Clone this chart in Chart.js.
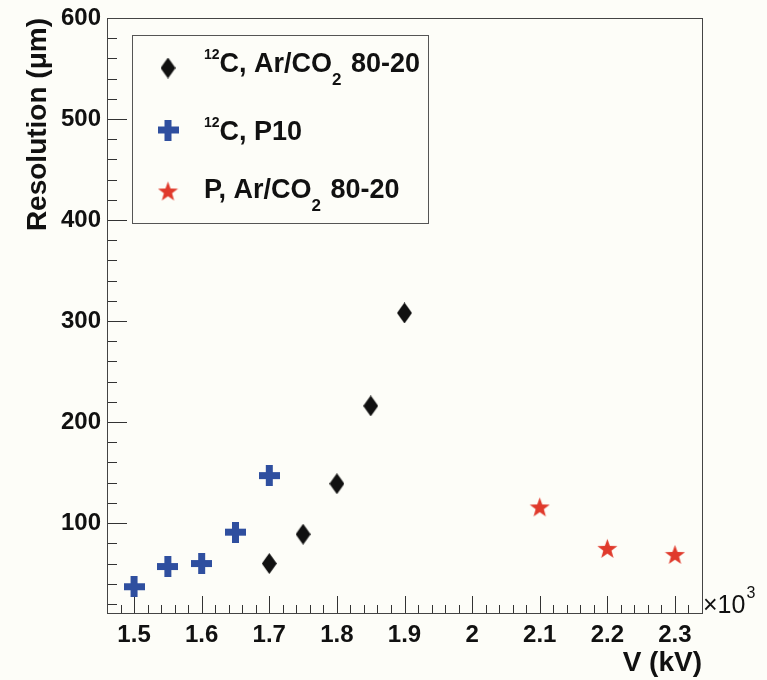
<!DOCTYPE html>
<html>
<head>
<meta charset="utf-8">
<title>Resolution vs V</title>
<script src="https://cdn.jsdelivr.net/npm/chart.js@4.4.1/dist/chart.umd.min.js"></script>
<style>
  body { margin: 0; background: #fdfdf8; }
  canvas { display: block; }
</style>
</head>
<body>
<canvas id="resChart" width="767" height="680"></canvas>
<script>
// 12C, Ar/CO2 80-20
const vC12Ar = [1.70, 1.75, 1.80, 1.85, 1.90];
const resC12Ar = [60, 89, 139, 216, 308];
// 12C, P10
const vC12P10 = [1.50, 1.55, 1.60, 1.65, 1.70];
const resC12P10 = [37, 57, 60, 91, 147];
// P, Ar/CO2 80-20
const vPAr = [2.10, 2.20, 2.30];
const resPAr = [116, 75, 69];

const xTicks = [1.5, 1.6, 1.7, 1.8, 1.9, 2.0, 2.1, 2.2, 2.3];
const yTicks = [100, 200, 300, 400, 500, 600];

// legend entries as runs of [text, 'sup' | 'sub' | '']
const legC12Ar = [['12', 'sup'], ['C, Ar/CO', ''], ['2', 'sub'], [' 80-20', '']];
const legC12P10 = [['12', 'sup'], ['C, P10', '']];
const legPAr = [['P, Ar/CO', ''], ['2', 'sub'], [' 80-20', '']];

const FONT = '"Liberation Sans", Arial, Helvetica, sans-serif';
const INK = '#111';

function makeMarker(w, h, draw) {
  const c = document.createElement('canvas');
  c.width = w;
  c.height = h;
  draw(c.getContext('2d'), w, h);
  return c;
}

const diamondMark = makeMarker(15, 21, (g, w, h) => {
  g.fillStyle = '#111';
  g.beginPath();
  g.moveTo(w / 2, 0);
  g.lineTo(w, h / 2);
  g.lineTo(w / 2, h);
  g.lineTo(0, h / 2);
  g.closePath();
  g.fill();
});

const crossMark = makeMarker(21, 21, (g) => {
  g.fillStyle = '#2f4f9f';
  g.fillRect(0, 7, 21, 7);
  g.fillRect(7, 0, 7, 21);
});

const starMark = makeMarker(21, 21, (g, w, h) => {
  g.fillStyle = '#e03a2c';
  g.beginPath();
  for (let i = 0; i < 10; i++) {
    const r = i % 2 ? 4.3 : 10.5;
    const a = -Math.PI / 2 + i * Math.PI / 5;
    g.lineTo(w / 2 + r * Math.cos(a), h / 2 + 1 + r * Math.sin(a));
  }
  g.closePath();
  g.fill();
});

const toPoints = (xs, ys) => xs.map((v, i) => ({x: v, y: ys[i]}));

// draws a run list, shifting sup/sub pieces around the baseline
function drawRich(ctx, runs, x, base) {
  ctx.textAlign = 'left';
  ctx.textBaseline = 'alphabetic';
  ctx.fillStyle = INK;
  for (const [t, kind] of runs) {
    let size = 27, dy = 0;
    if (kind === 'sup') { size = 14; dy = -13; }
    if (kind === 'sub') { size = 17; dy = 13; }
    ctx.font = `bold ${size}px ${FONT}`;
    ctx.fillText(t, x, base + dy);
    x += ctx.measureText(t).width + (kind === 'sub' ? 2 : 0);
  }
}

// ROOT-like frame: box around the pad, ticks pointing inward
const rootAxes = {
  id: 'rootAxes',
  beforeDatasetsDraw(chart) {
    const {ctx, chartArea: a, scales: {x, y}} = chart;
    ctx.save();
    ctx.lineWidth = 1;
    ctx.strokeStyle = '#333';

    // x ticks every 0.02, long ones every 0.1
    for (let k = 74; k <= 117; k++) {
      const px = Math.round(x.getPixelForValue(k * 0.02)) + 0.5;
      const len = k % 5 === 0 ? 17 : 8;
      ctx.beginPath();
      ctx.moveTo(px, a.bottom);
      ctx.lineTo(px, a.bottom - len);
      ctx.stroke();
    }
    // y ticks every 20, long ones every 100
    for (let v = 20; v < 600; v += 20) {
      const py = Math.round(y.getPixelForValue(v)) + 0.5;
      const len = v % 100 === 0 ? 20 : 10;
      ctx.beginPath();
      ctx.moveTo(a.left, py);
      ctx.lineTo(a.left + len, py);
      ctx.stroke();
    }

    ctx.strokeStyle = '#444';
    ctx.strokeRect(Math.round(a.left) + 0.5, Math.round(a.top) + 0.5,
      Math.round(a.right - a.left), Math.round(a.bottom - a.top));
    ctx.restore();
  },
  afterDraw(chart) {
    const {ctx, chartArea: a} = chart;
    ctx.save();

    // axis multiplier
    ctx.fillStyle = INK;
    ctx.textAlign = 'left';
    ctx.textBaseline = 'alphabetic';
    ctx.font = `25px ${FONT}`;
    ctx.fillText('\u00d710', a.right + 1, a.bottom);
    const w = ctx.measureText('\u00d710').width;
    ctx.font = `16px ${FONT}`;
    ctx.fillText('3', a.right + 2 + w, a.bottom - 15);

    // legend box
    ctx.strokeStyle = '#555';
    ctx.lineWidth = 1;
    ctx.strokeRect(132.5, 35.5, 296, 188);
    const rows = [
      [diamondMark, legC12Ar, 68, 72],
      [crossMark, legC12P10, 130, 140],
      [starMark, legPAr, 191, 198],
    ];
    for (const [mark, runs, my, base] of rows) {
      ctx.drawImage(mark, 168 - mark.width / 2, my - mark.height / 2);
      drawRich(ctx, runs, 204, base);
    }
    ctx.restore();
  }
};

const ctx = document.getElementById('resChart');

new Chart(ctx, {
  type: 'scatter',
  data: {
    datasets: [
      {
        label: '12C, Ar/CO2 80-20',
        data: toPoints(vC12Ar, resC12Ar),
        pointStyle: diamondMark,
        pointRadius: 10,
      },
      {
        label: '12C, P10',
        data: toPoints(vC12P10, resC12P10),
        pointStyle: crossMark,
        pointRadius: 10,
      },
      {
        label: 'P, Ar/CO2 80-20',
        data: toPoints(vPAr, resPAr),
        pointStyle: starMark,
        pointRadius: 10,
      },
    ],
  },
  options: {
    responsive: false,
    animation: false,
    events: [],
    layout: {padding: {top: 13, right: 65, left: 0, bottom: 0}},
    plugins: {
      legend: {display: false},
      tooltip: {enabled: false},
    },
    scales: {
      x: {
        type: 'linear',
        min: 1.46,
        max: 2.34,
        grid: {display: false, drawTicks: false},
        border: {display: false},
        afterBuildTicks: (s) => { s.ticks = xTicks.map((v) => ({value: v})); },
        afterFit: (s) => { s.height = 67; },
        ticks: {
          color: INK,
          font: {family: FONT, size: 24, weight: 'bold', lineHeight: 1},
          padding: 10,
          maxRotation: 0,
          autoSkip: false,
          callback: (v) => String(Math.round(v * 10) / 10),
        },
        title: {
          display: true,
          text: 'V (kV)',
          align: 'end',
          color: INK,
          font: {family: FONT, size: 28, weight: 'bold'},
          padding: {top: 0, bottom: 0},
        },
      },
      y: {
        type: 'linear',
        min: 11,
        max: 600,
        grid: {display: false, drawTicks: false},
        border: {display: false},
        afterBuildTicks: (s) => { s.ticks = yTicks.map((v) => ({value: v})); },
        afterFit: (s) => { s.width = 107; },
        ticks: {
          color: INK,
          font: {family: FONT, size: 24, weight: 'bold', lineHeight: 1},
          padding: 6,
        },
        title: {
          display: true,
          text: 'Resolution (\u03bcm)',
          align: 'end',
          color: INK,
          font: {family: FONT, size: 28, weight: 'bold'},
          padding: {top: 21, bottom: 0},
        },
      },
    },
  },
  plugins: [rootAxes],
});
</script>
</body>
</html>
